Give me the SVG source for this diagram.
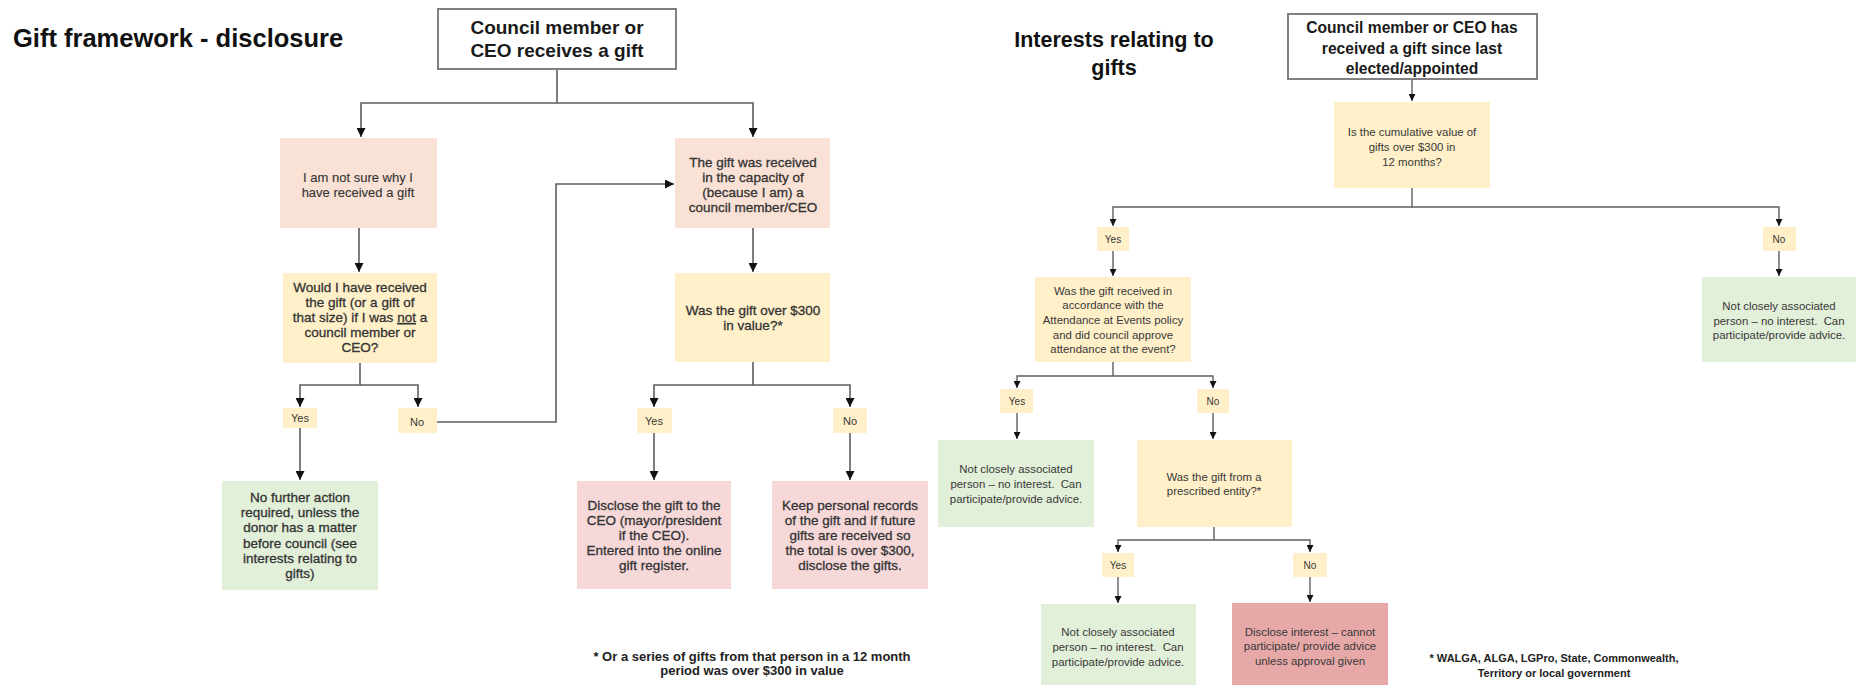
<svg xmlns="http://www.w3.org/2000/svg" width="1856" height="685" viewBox="0 0 1856 685">
<defs>
<marker id="ah" markerUnits="userSpaceOnUse" markerWidth="9" markerHeight="9" viewBox="0 0 10 10" refX="10" refY="5" orient="auto"><path d="M0,0 L10,5 L0,10 z" fill="#111"/></marker>
<marker id="ahs" markerUnits="userSpaceOnUse" markerWidth="7" markerHeight="7" viewBox="0 0 10 10" refX="10" refY="5" orient="auto"><path d="M0,0 L10,5 L0,10 z" fill="#111"/></marker>
<style>
text{font-family:"Liberation Sans",Arial,sans-serif;fill:#383838;text-anchor:middle}
.title{font-weight:bold;fill:#111}
.head{font-weight:bold;fill:#1a1a1a}
.t13{font-size:13.5px;fill:#333;stroke:#333;stroke-width:0.3}
.t11{font-size:11.4px}
.lbl{font-size:11px}
.lbls{font-size:10px}
.foot{font-weight:bold;fill:#222}
.start{fill:#fff;stroke:#808080;stroke-width:2}
.peach{fill:#f9e1d5}
.yel{fill:#fff0c9}
.grn{fill:#e2efd9}
.pink{fill:#f6d8d9}
.red{fill:#e7a8a8}
.c{fill:none;stroke:#5e5e5e;stroke-width:1.6;marker-end:url(#ah)}
.cs{fill:none;stroke:#5e5e5e;stroke-width:1.4;marker-end:url(#ahs)}
</style>
</defs>
<rect width="1856" height="685" fill="#fff"/>

<text id="title-left" class="title" x="13" y="47" style="text-anchor:start;font-size:25.5px">Gift framework - disclosure</text>
<text id="title-right" class="title" style="font-size:21.5px"><tspan x="1114" y="47">Interests relating to</tspan><tspan x="1114" y="75">gifts</tspan></text>

<g id="connectors">
<path class="c" d="M557,69 V103 H361 V137"/>
<path class="c" d="M557,103 H753 V137"/>
<path class="c" d="M359,228 V272"/>
<path class="c" d="M360,363 V385 H300 V407"/>
<path class="c" d="M360,385 H418 V407"/>
<path class="c" d="M300,428 V480"/>
<path class="c" d="M437,422 H556 V184 H674"/>
<path class="c" d="M753,228 V272"/>
<path class="c" d="M753,362 V385 H654 V407"/>
<path class="c" d="M753,385 H850 V407"/>
<path class="c" d="M654,433 V480"/>
<path class="c" d="M850,433 V480"/>

<path class="cs" d="M1412,79 V101"/>
<path class="cs" d="M1412,188 V207 H1113 V226"/>
<path class="cs" d="M1412,207 H1779 V226"/>
<path class="cs" d="M1113,251 V276"/>
<path class="cs" d="M1779,251 V276"/>
<path class="cs" d="M1113,362 V376 H1017 V388"/>
<path class="cs" d="M1113,376 H1213 V388"/>
<path class="cs" d="M1017,413 V439"/>
<path class="cs" d="M1213,413 V439"/>
<path class="cs" d="M1214,527 V540 H1118 V552"/>
<path class="cs" d="M1214,540 H1310 V552"/>
<path class="cs" d="M1118,577 V603"/>
<path class="cs" d="M1310,577 V602"/>
</g>

<g id="n-start-left">
<rect class="start" x="438" y="9" width="238" height="60"/>
<text class="head" style="font-size:19px"><tspan x="557" y="34">Council member or</tspan><tspan x="557" y="57">CEO receives a gift</tspan></text>
</g>
<g id="n-not-sure">
<rect class="peach" x="280" y="138" width="157" height="90"/>
<text class="t13" style="font-size:13px;stroke-width:0.1"><tspan x="358" y="181.5">I am not sure why I</tspan><tspan x="358" y="196.5">have received a gift</tspan></text>
</g>
<g id="n-would">
<rect class="yel" x="283" y="273" width="154" height="90"/>
<text class="t13"><tspan x="360" y="292">Would I have received</tspan><tspan x="360" y="307">the gift (or a gift of</tspan><tspan x="360" y="322">that size) if I was <tspan text-decoration="underline">not</tspan> a</tspan><tspan x="360" y="337">council member or</tspan><tspan x="360" y="352">CEO?</tspan></text>
</g>
<g id="n-yes1">
<rect class="yel" x="283" y="408" width="34" height="20"/>
<text class="lbl" x="300" y="422">Yes</text>
</g>
<g id="n-no1">
<rect class="yel" x="398" y="408" width="39" height="25"/>
<text class="lbl" x="417" y="426">No</text>
</g>
<g id="n-no-action">
<rect class="grn" x="222" y="481" width="156" height="109"/>
<text class="t13"><tspan x="300" y="502">No further action</tspan><tspan x="300" y="517">required, unless the</tspan><tspan x="300" y="532">donor has a matter</tspan><tspan x="300" y="548">before council (see</tspan><tspan x="300" y="563">interests relating to</tspan><tspan x="300" y="578">gifts)</tspan></text>
</g>
<g id="n-capacity">
<rect class="peach" x="675" y="138" width="155" height="90"/>
<text class="t13"><tspan x="753" y="166.5">The gift was received</tspan><tspan x="753" y="181.5">in the capacity of</tspan><tspan x="753" y="196.5">(because I am) a</tspan><tspan x="753" y="211.5">council member/CEO</tspan></text>
</g>
<g id="n-over300">
<rect class="yel" x="675" y="273" width="155" height="89"/>
<text class="t13"><tspan x="753" y="314.5">Was the gift over $300</tspan><tspan x="753" y="329.5">in value?*</tspan></text>
</g>
<g id="n-yes2">
<rect class="yel" x="637" y="408" width="35" height="25"/>
<text class="lbl" x="654" y="425">Yes</text>
</g>
<g id="n-no2">
<rect class="yel" x="833" y="408" width="34" height="25"/>
<text class="lbl" x="850" y="425">No</text>
</g>
<g id="n-disclose">
<rect class="pink" x="577" y="481" width="154" height="108"/>
<text class="t13"><tspan x="654" y="510">Disclose the gift to the</tspan><tspan x="654" y="525">CEO (mayor/president</tspan><tspan x="654" y="540">if the CEO).</tspan><tspan x="654" y="555">Entered into the online</tspan><tspan x="654" y="570">gift register.</tspan></text>
</g>
<g id="n-keep">
<rect class="pink" x="772" y="481" width="156" height="108"/>
<text class="t13"><tspan x="850" y="510">Keep personal records</tspan><tspan x="850" y="525">of the gift and if future</tspan><tspan x="850" y="540">gifts are received so</tspan><tspan x="850" y="555">the total is over $300,</tspan><tspan x="850" y="570">disclose the gifts.</tspan></text>
</g>
<text id="foot-left" class="foot" style="font-size:13px"><tspan x="752" y="661">* Or a series of gifts from that person in a 12 month</tspan><tspan x="752" y="675">period was over $300 in value</tspan></text>

<g id="n-start-right">
<rect class="start" x="1288" y="14" width="249" height="65"/>
<text class="head" style="font-size:15.6px"><tspan x="1412" y="33">Council member or CEO has</tspan><tspan x="1412" y="54">received a gift since last</tspan><tspan x="1412" y="74">elected/appointed</tspan></text>
</g>
<g id="n-cumulative">
<rect class="yel" x="1334" y="102" width="156" height="86"/>
<text class="t11"><tspan x="1412" y="136">Is the cumulative value of</tspan><tspan x="1412" y="151">gifts over $300 in</tspan><tspan x="1412" y="166">12 months?</tspan></text>
</g>
<g id="n-yes3">
<rect class="yel" x="1097" y="227" width="32" height="24"/>
<text class="lbls" x="1113" y="242.5">Yes</text>
</g>
<g id="n-no3">
<rect class="yel" x="1763" y="227" width="33" height="24"/>
<text class="lbls" x="1779" y="242.5">No</text>
</g>
<g id="n-notclose1">
<rect class="grn" x="1702" y="277" width="154" height="85"/>
<text class="t11" xml:space="preserve"><tspan x="1779" y="310">Not closely associated</tspan><tspan x="1779" y="325">person – no interest.  Can</tspan><tspan x="1779" y="339">participate/provide advice.</tspan></text>
</g>
<g id="n-attendance">
<rect class="yel" x="1035" y="277" width="156" height="85"/>
<text class="t11"><tspan x="1113" y="295">Was the gift received in</tspan><tspan x="1113" y="309">accordance with the</tspan><tspan x="1113" y="324">Attendance at Events policy</tspan><tspan x="1113" y="339">and did council approve</tspan><tspan x="1113" y="353">attendance at the event?</tspan></text>
</g>
<g id="n-yes4">
<rect class="yel" x="1000" y="389" width="33" height="24"/>
<text class="lbls" x="1017" y="404.5">Yes</text>
</g>
<g id="n-no4">
<rect class="yel" x="1197" y="389" width="32" height="24"/>
<text class="lbls" x="1213" y="404.5">No</text>
</g>
<g id="n-notclose2">
<rect class="grn" x="938" y="440" width="156" height="87"/>
<text class="t11" xml:space="preserve"><tspan x="1016" y="473">Not closely associated</tspan><tspan x="1016" y="488">person – no interest.  Can</tspan><tspan x="1016" y="503">participate/provide advice.</tspan></text>
</g>
<g id="n-prescribed">
<rect class="yel" x="1137" y="440" width="155" height="87"/>
<text class="t11"><tspan x="1214" y="481">Was the gift from a</tspan><tspan x="1214" y="495">prescribed entity?*</tspan></text>
</g>
<g id="n-yes5">
<rect class="yel" x="1102" y="553" width="32" height="24"/>
<text class="lbls" x="1118" y="568.5">Yes</text>
</g>
<g id="n-no5">
<rect class="yel" x="1293" y="553" width="34" height="24"/>
<text class="lbls" x="1310" y="568.5">No</text>
</g>
<g id="n-notclose3">
<rect class="grn" x="1041" y="604" width="155" height="81"/>
<text class="t11" xml:space="preserve"><tspan x="1118" y="636">Not closely associated</tspan><tspan x="1118" y="651">person – no interest.  Can</tspan><tspan x="1118" y="666">participate/provide advice.</tspan></text>
</g>
<g id="n-disclose-interest">
<rect class="red" x="1232" y="603" width="156" height="82"/>
<text class="t11"><tspan x="1310" y="636">Disclose interest – cannot</tspan><tspan x="1310" y="650">participate/ provide advice</tspan><tspan x="1310" y="665">unless approval given</tspan></text>
</g>
<text id="foot-right" class="foot" style="font-size:11px"><tspan x="1554" y="662">* WALGA, ALGA, LGPro, State, Commonwealth,</tspan><tspan x="1554" y="677">Territory or local government</tspan></text>
</svg>
